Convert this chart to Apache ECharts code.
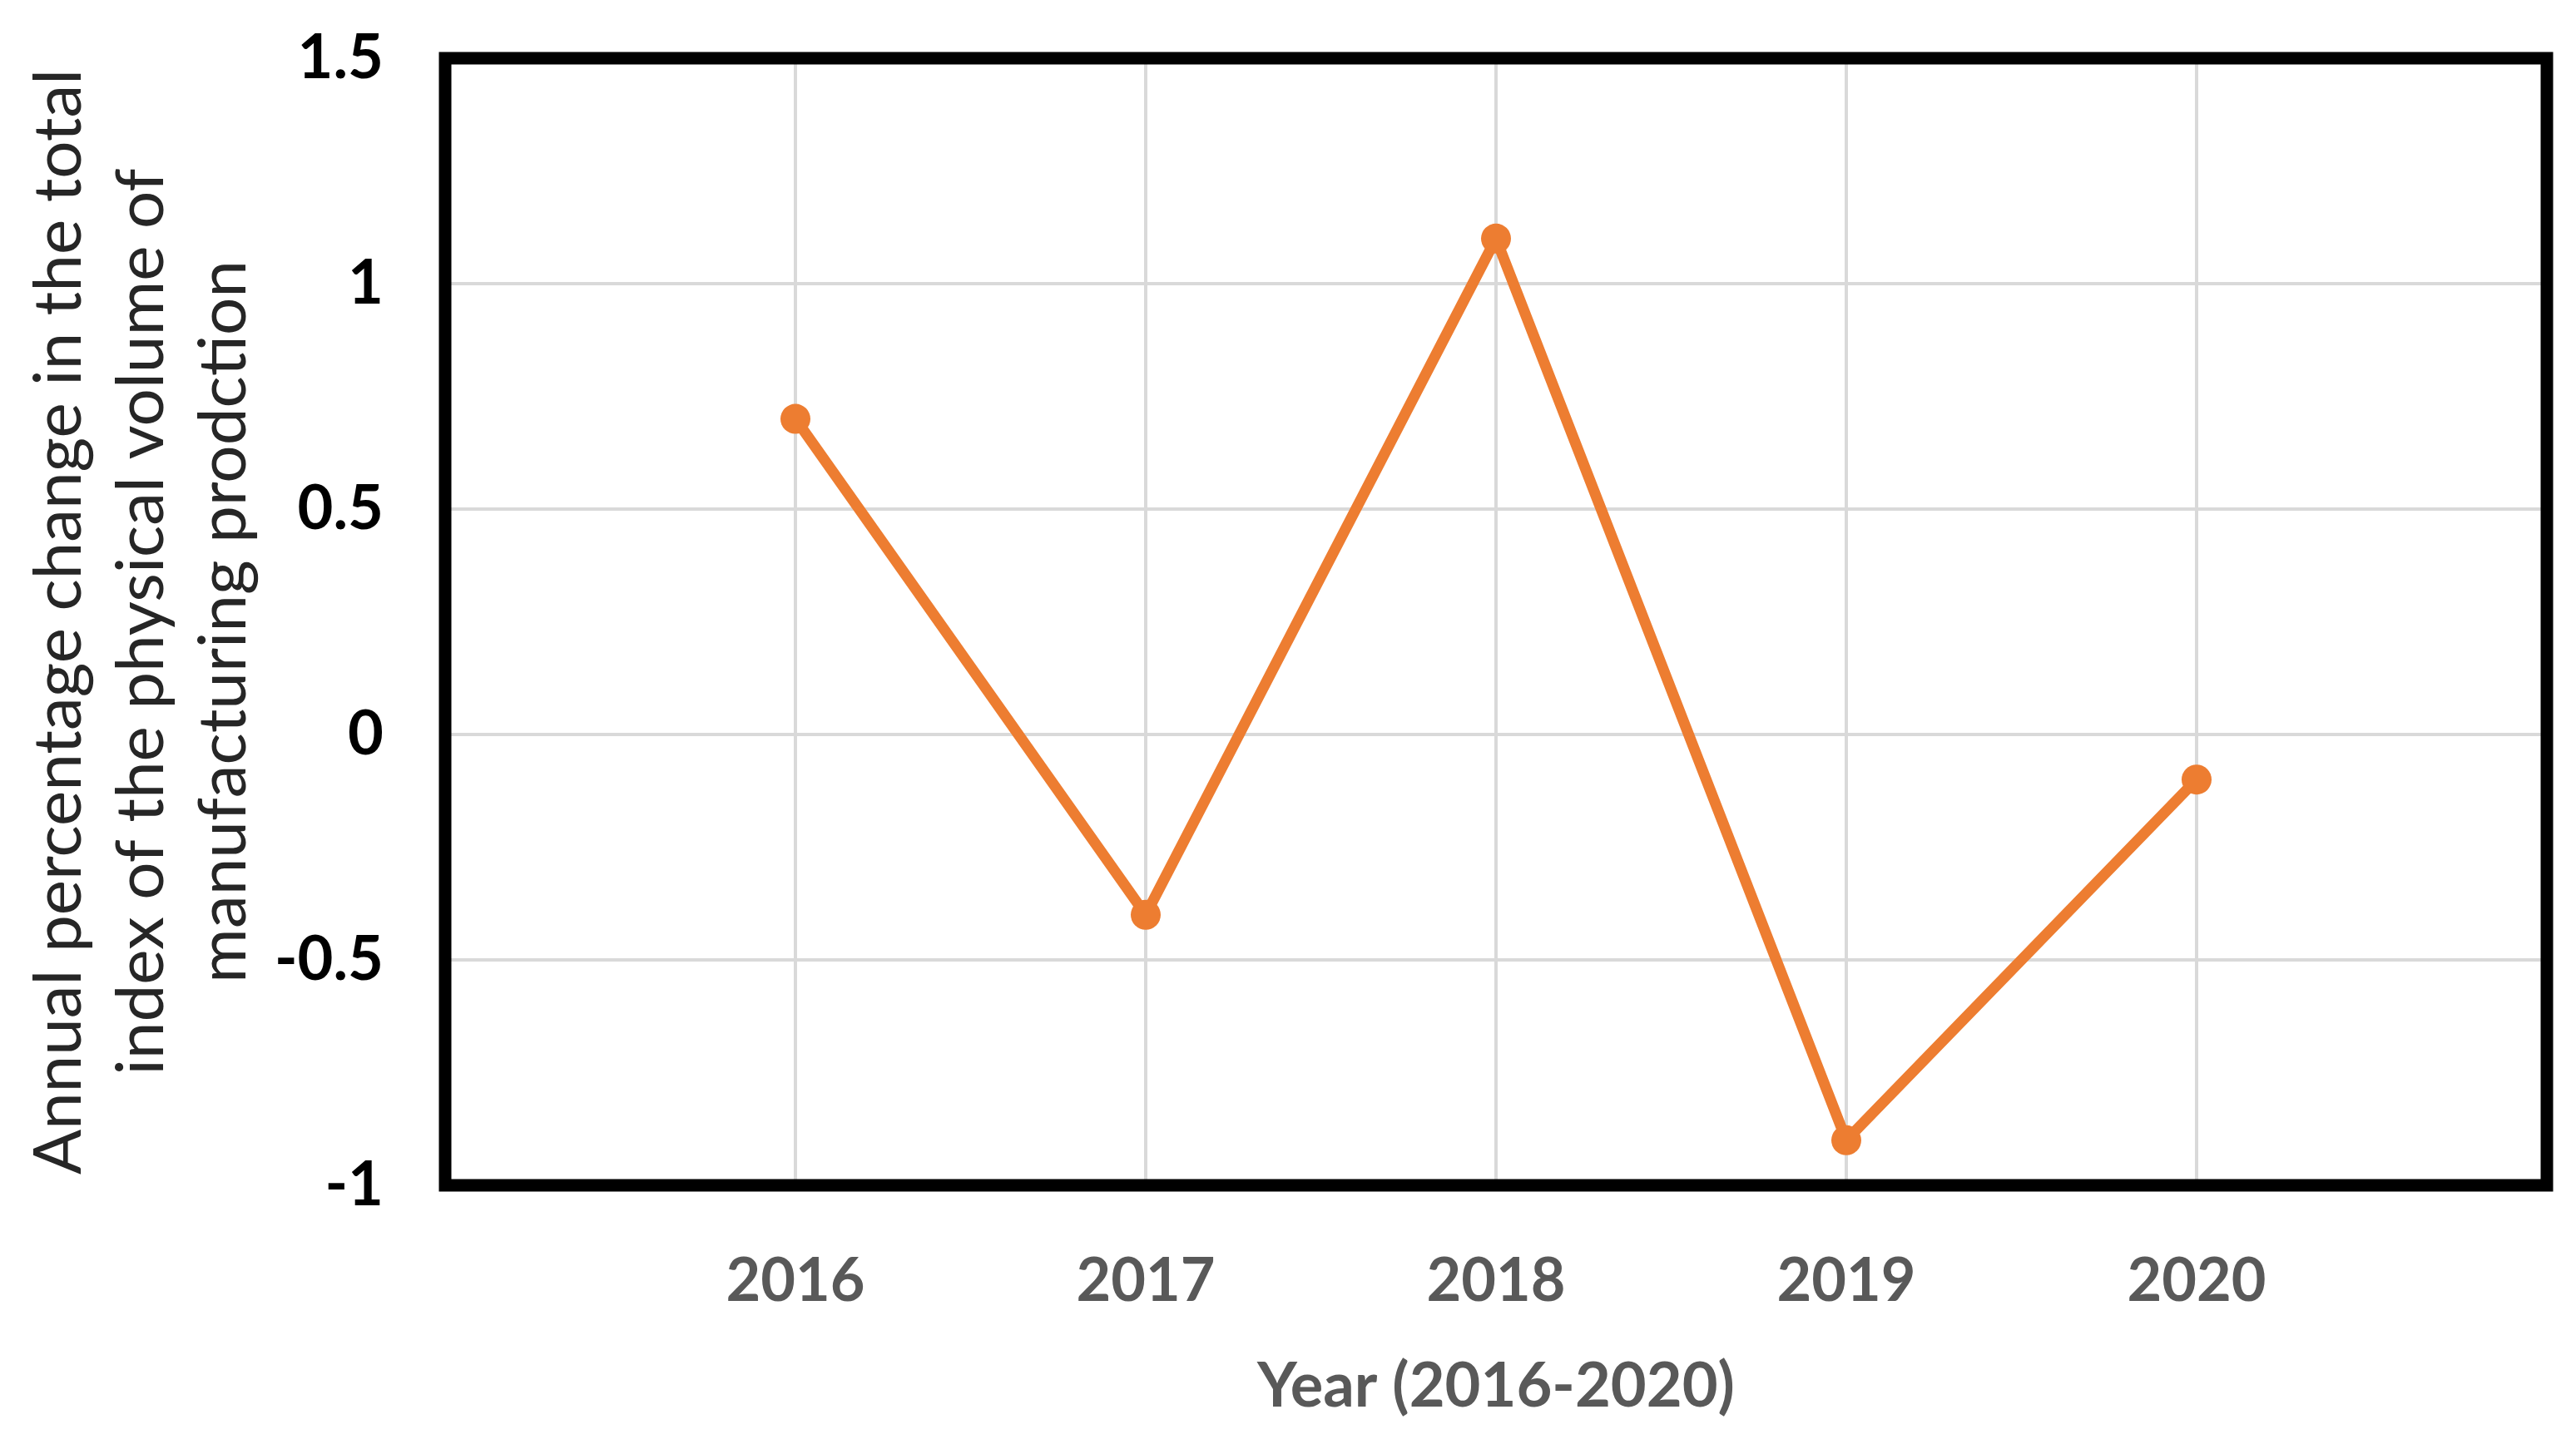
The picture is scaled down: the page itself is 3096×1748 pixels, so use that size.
<!DOCTYPE html>
<html>
<head>
<meta charset="utf-8">
<script src="https://cdn.jsdelivr.net/npm/echarts@6/dist/echarts.min.js"></script>
<style>html,body{margin:0;padding:0;background:#fff}#c{width:3096px;height:1748px}</style>
</head>
<body>
<div id="c"></div>
<script>
const years = [2016, 2017, 2018, 2019, 2020];
const values = [0.7, -0.4, 1.1, -0.9, -0.1];
const yTicks = [-1, -0.5, 0, 0.5, 1, 1.5];
const yTitle = 'Annual percentage change in the total\nindex of the physical volume of\nmanufacturing prodction';
const xTitle = 'Year (2016-2020)';

const chart = echarts.init(document.getElementById('c'));
chart.setOption({
  backgroundColor: '#fff',
  animation: false,
  grid: {
    left: 535, right: 35, top: 70, bottom: 323,
    show: true, borderColor: '#000', borderWidth: 15, z: 10
  },
  xAxis: {
    type: 'value', min: 2015, max: 2021, interval: 1,
    axisLine: {show: false}, axisTick: {show: false},
    axisLabel: {
      margin: 80, color: '#595959', fontFamily: 'Lato', fontWeight: 'bold', fontSize: 72,
      formatter: v => (years.indexOf(v) >= 0 ? String(v) : '')
    },
    splitLine: {show: true, lineStyle: {color: '#D9D9D9', width: 4}},
    name: xTitle, nameLocation: 'middle', nameGap: 205,
    nameTextStyle: {color: '#595959', fontFamily: 'Lato', fontWeight: 'bold', fontSize: 74}
  },
  yAxis: {
    type: 'value', min: yTicks[0], max: yTicks[yTicks.length - 1], interval: 0.5,
    axisLine: {show: false}, axisTick: {show: false},
    axisLabel: {
      margin: 74, color: '#000', fontFamily: 'Lato', fontWeight: 'bold', fontSize: 74,
      formatter: v => String(v)
    },
    splitLine: {show: true, lineStyle: {color: '#D9D9D9', width: 4}},
    name: yTitle, nameLocation: 'middle', nameRotate: 90, nameGap: 216,
    nameTextStyle: {color: '#262626', fontFamily: 'Lato', fontSize: 80, lineHeight: 99}
  },
  series: [{
    type: 'line',
    data: years.map((y, i) => [y, values[i]]),
    symbol: 'circle', symbolSize: 36,
    lineStyle: {color: '#ED7D31', width: 13},
    itemStyle: {color: '#ED7D31'},
    z: 3
  }]
});
</script>
</body>
</html>
